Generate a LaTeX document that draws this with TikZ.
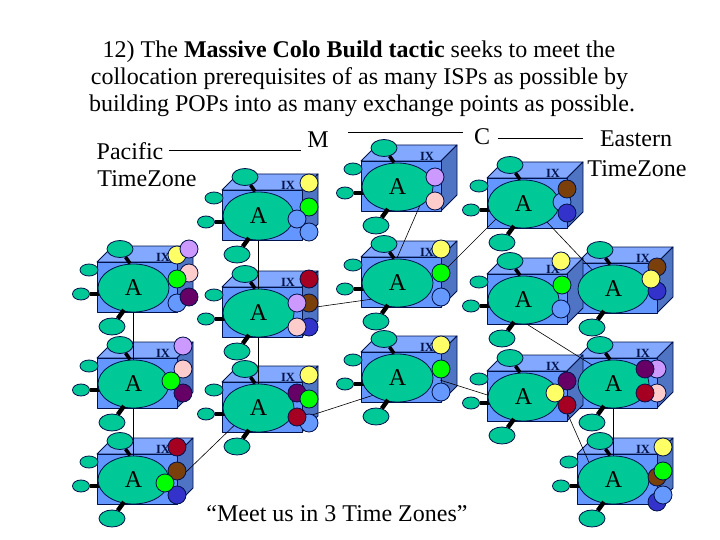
\documentclass[tikz,border=0pt]{standalone}
\usepackage{fontspec}
\setmainfont{Liberation Serif}
\usetikzlibrary{shapes.geometric}
\pgfdeclarelayer{boxes}
\pgfdeclarelayer{wires}
\pgfsetlayers{boxes,wires,main}
\definecolor{fr}{HTML}{6496FF}
\definecolor{tp}{HTML}{82A8FF}
\definecolor{sd}{HTML}{4F74C4}
\definecolor{gr}{HTML}{00C896}
\definecolor{ed}{HTML}{00124A}
\definecolor{yel}{HTML}{FFFF66}
\definecolor{pur}{HTML}{CC99FF}
\definecolor{grn}{HTML}{00FF00}
\definecolor{pnk}{HTML}{FFCCCC}
\definecolor{dpu}{HTML}{660066}
\definecolor{blu}{HTML}{6699FF}
\definecolor{brn}{HTML}{7A3F0A}
\definecolor{dbl}{HTML}{3333CC}
\definecolor{red2}{HTML}{A50021}
\tikzset{
 face/.style={draw=ed,line width=0.9pt,line join=round},
 blob/.style={ellipse,draw=ed,fill=gr,line width=0.8pt,inner sep=0pt},
 hub/.style={blob,minimum width=71pt,minimum height=48pt,font=\fontsize{24}{26}\selectfont},
 satbig/.style={blob,minimum width=26pt,minimum height=17pt},
 satsmall/.style={blob,minimum width=18pt,minimum height=12pt},
 satleft/.style={blob,minimum width=17pt,minimum height=12pt},
 router/.style={circle,draw=ed,line width=0.8pt,minimum size=18pt,inner sep=0pt},
 ixlab/.style={font=\fontsize{12.5}{14}\selectfont\bfseries,text=ed,inner sep=0pt},
 bar/.style={line width=4.4pt,black},
 wire/.style={line width=0.6pt,black},
 rule/.style={line width=0.8pt,black},
 txt/.style={font=\fontsize{24}{28}\selectfont,inner sep=0pt},
}
\newcommand{\popbox}[4]{%
 \begin{pgfonlayer}{boxes}
  \draw[face,fill=tp] (#2,#3) -- (#2+16,#3-16) -- (#2+96,#3-16) -- (#2+80,#3) -- cycle;
  \draw[face,fill=sd] (#2+80,#3) -- (#2+96,#3-16) -- (#2+96,#3+34) -- (#2+80,#3+50) -- cycle;
  \draw[face,fill=fr] (#2,#3) rectangle (#2+80,#3+50);
  \node[satsmall] (#1-s) at (#2-8,#3+8) {};
  \node[satleft] (#1-l) at (#2-16,#3+32) {};
  \coordinate (#1-lc) at (#2+3,#3+32);
  \draw[bar] (#1-l) -- (#1-lc);
 \end{pgfonlayer}
 \node[ixlab] (#1-ix) at (#2+66,#3-5) {IX};
 \node[hub] (#1) at (#2+36.5,#3+26) {A};
 \node[satbig] (#1-t) at (#2+23,#3-13) {};
 \node[satbig] (#1-b) at (#2+15,#3+64.5) {};
 \coordinate (#1-tc) at (#2+33,#3+1.5);
 \coordinate (#1-bc) at (#2+27,#3+48);
 \draw[bar,line width=3.6pt] (#1-t) -- (#1-tc);
 \draw[bar] (#1-b) -- (#1-bc);
 \foreach \cx/\cy/\cc [count=\n] in {#4} {
  \node[router,fill=\cc] (#1-r\n) at (#2+\cx,#3+\cy) {};
 }
}
\begin{document}
\begin{tikzpicture}[x=1pt,y=-1pt]
\useasboundingbox (0,0) rectangle (720,540);
% column 5 (behind column 4)
\popbox{e1}{577}{263}{80/4/brn,80/28/dbl,74/16/yel}
\popbox{e2}{577}{358}{80/11/pur,68/11/dpu,80/35/pnk,68/35/red2}
\popbox{e3}{577}{454}{86/-7/yel,80/23/brn,86/17/grn,80/48/dbl,86/41/blu}
% column 4
\popbox{d1}{487}{178}{75/24/blu,80/11/brn,80/35/dbl}
\popbox{d2}{487}{274}{74/-13/yel,74/35/blu,75/11/grn}
\popbox{d3}{487}{371}{80/10/dpu,80/34/red2,68/22/yel}
% column 3
\popbox{c1}{361}{161}{74/16/pur,74/40/pnk}
\popbox{c2}{361}{257}{80/-8/yel,80/16/grn,80/40/blu}
\popbox{c3}{361}{352}{80/-7/yel,80/17/grn,80/40/blu}
% column 2
\popbox{b1}{222}{190}{87/-7/yel,87/17/grn,87/42/blu,75/29/blu}
\popbox{b2}{222}{287}{87/-8/red2,87/16/brn,75/16/pur,87/40/dbl,75/40/pnk}
\popbox{b3}{222}{382}{87/-7/yel,75/11/dpu,87/17/grn,87/41/blu,75/35/red2}
% column 1
\popbox{a1}{97}{262}{80/-7/yel,92/-13/pur,92/11/pnk,80/17/grn,80/41/blu,92/35/dpu}
\popbox{a2}{97}{358}{86/-12/pur,86/11/pnk,86/35/dpu,74/23/grn}
\popbox{a3}{97}{454}{80/-7/red2,80/17/brn,80/41/dbl,68/29/grn}
% connector ends that stop under a shape
\coordinate (w1s) at (185,473);
\coordinate (w1e) at (245,415);
\coordinate (w2s) at (309,308);
\coordinate (w2e) at (380,298);
\coordinate (w3s) at (309,416);
\coordinate (w3e) at (380,393);
\coordinate (w4s) at (441,274);
\coordinate (w4e) at (500,215);
\coordinate (w5s) at (440,380);
\coordinate (w5e) at (500,399);
\coordinate (w6s) at (545,220);
\coordinate (w6e) at (600,278);
\coordinate (w7s) at (525,323);
\coordinate (w7e) at (600,370);
\coordinate (w8s) at (565,408);
\coordinate (w8e) at (595,476);
\coordinate (w9s) at (428,187);
\coordinate (w9e) at (397,258);
\begin{pgfonlayer}{wires}
 \draw[wire] (a1.center) -- (a2.center);
 \draw[wire] (a2.center) -- (a3.center);
 \draw[wire] (b1.center) -- (b2.center);
 \draw[wire] (b2.center) -- (b3.center);
 \draw[wire] (e2.center) -- (e3.center);
 \draw[wire] (w1s) -- (w1e);
 \draw[wire] (w2s) -- (w2e);
 \draw[wire] (w3s) -- (w3e);
 \draw[wire] (w4s) -- (w4e);
 \draw[wire] (w5s) -- (w5e);
 \draw[wire] (w6s) -- (w6e);
 \draw[wire] (w7s) -- (w7e);
 \draw[wire] (w8s) -- (w8e);
 \draw[wire] (w9s) -- (w9e);
\end{pgfonlayer}
% text
\node[txt] (l1) at (359,52) {12) The \textbf{Massive Colo Build tactic} seeks to meet the};
\node[txt] (l2) at (359.5,79) {collocation prerequisites of as many ISPs as possible by};
\node[txt] (l3) at (362,106) {building POPs into as many exchange points as possible.};
\node[txt] (pac) at (130,151) {Pacific};
\node[txt] (tz1) at (147,179) {TimeZone};
\node[txt] (m) at (318,140) {M};
\node[txt] (cc) at (482,137) {C};
\node[txt] (ea) at (636,139) {Eastern};
\node[txt] (tz2) at (637,169) {TimeZone};
\node[txt] (meet) at (337,514) {“Meet us in 3 Time Zones”};
\coordinate (r1a) at (169,150);
\coordinate (r1b) at (301,150);
\coordinate (r2a) at (348,132);
\coordinate (r2b) at (463,132);
\coordinate (r3a) at (498,138);
\coordinate (r3b) at (583,138);
\draw[rule] (r1a) -- (r1b);
\draw[rule] (r2a) -- (r2b);
\draw[rule] (r3a) -- (r3b);
\end{tikzpicture}
\end{document}
